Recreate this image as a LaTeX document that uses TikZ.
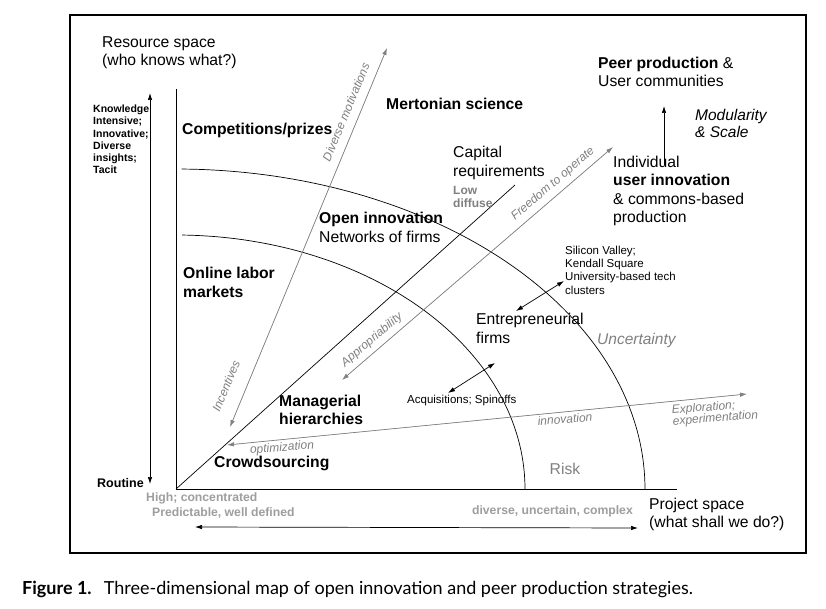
\documentclass[tikz,border=0pt]{standalone}
\usepackage{fontspec}
\setmainfont{Liberation Sans}
\newfontfamily\capfont{Lato}
\usetikzlibrary{arrows.meta}

\begin{document}
\begin{tikzpicture}[x=1pt,y=-1pt,
    lbl/.style={align=left,anchor=west,inner sep=0pt,font=\fontsize{15.7}{18.4}\selectfont},
    hd/.style={lbl,font=\fontsize{15.7}{18.6}\selectfont\bfseries},
    sm/.style={lbl,font=\fontsize{11.5}{13.3}\selectfont},
    gl/.style={lbl,text=black!38,font=\fontsize{12.2}{13}\selectfont\bfseries},
    gi/.style={inner sep=0pt,text=black!50,font=\fontsize{12}{11.5}\selectfont\itshape},
    arr/.style={{Latex[length=7pt,width=4.5pt]}-{Latex[length=7pt,width=4.5pt]},line width=0.7pt},
    uparr/.style={-{Latex[length=7pt,width=4.5pt]},line width=0.7pt},
    garr/.style={arr,draw=black!50,fill=black!50},
    crv/.style={line width=0.7pt}
  ]
  \useasboundingbox (0,0) rectangle (826,609);
  \fill[white] (0,0) rectangle (826,609);
  \draw[line width=1.1pt] (70,15) rectangle (806,553);
  % axes
  \coordinate (O) at (176,489);
  \coordinate (ytop) at (176,89);
  \coordinate (xend) at (677,489);
  \coordinate (dtop) at (515,185);
  \draw[line width=0.9pt] (ytop) -- (O) -- (xend);
  \draw[crv] (O) -- (dtop);
  \draw[crv] plot[domain=0:89.3,samples=80,smooth] ({176+469*cos(\x)},{489-320*sin(\x)});
  \draw[crv] plot[domain=0:89,samples=80,smooth] ({176+349*cos(\x)},{489-254*sin(\x)});
  \coordinate (knowA) at (150,93);
  \coordinate (routA) at (150,484);
  \coordinate (predA) at (195,527);
  \coordinate (divA) at (638,528);
  \draw[arr] (routA) -- (knowA);
  \draw[arr] (predA) -- (divA);
  \node[lbl] (res) at (102,52.5) {Resource space\\(who knows what?)};
  \node[sm,font=\fontsize{10.5}{12.2}\selectfont\bfseries] (know) at (93,139.5)
    {Knowledge\\Intensive;\\Innovative;\\Diverse\\insights;\\Tacit};
  \node[sm,font=\fontsize{12.5}{13}\selectfont\bfseries] (rout) at (97,483) {Routine};
  \node[lbl] (proj) at (649,514.5) {Project space\\(what shall we do?)};
  \node[gl] (high) at (146,498) {High; concentrated};
  \node[gl] (pred) at (152,513) {Predictable, well defined};
  \node[gl,anchor=east] (div) at (633,511) {diverse, uncertain, complex};
  % strategies
  \node[hd] (comp) at (182,130) {Competitions/prizes};
  \node[hd] (mert) at (386,104) {Mertonian science};
  \node[lbl] (peer) at (598,72) {\textbf{Peer production} \&\\User communities};
  \node[lbl,font=\fontsize{15.5}{17}\selectfont\itshape] (mod) at (695,123.5) {Modularity\\\& Scale};
  \node[lbl] (capreq) at (453,163) {Capital\\requirements};
  \node[gl,text=black!50,font=\fontsize{12}{13}\selectfont\bfseries] (low) at (453,196.5) {Low\\diffuse};
  \node[lbl] (indiv) at (613,191) {Individual\\\textbf{user innovation}\\\& commons-based\\production};
  \node[lbl] (open) at (319,227.5) {\textbf{Open innovation}\\Networks of firms};
  \node[hd] (onl) at (183,282.5) {Online labor\\markets};
  \node[hd] (man) at (279,410) {Managerial\\hierarchies};
  \node[hd] (crowd) at (214,463) {Crowdsourcing};
  \node[sm] (acq) at (407,401) {Acquisitions; Spinoffs};
  \node[lbl] (ent) at (476,328.5) {Entrepreneurial\\firms};
  \node[sm] (sil) at (565,270) {Silicon Valley;\\Kendall Square\\University-based tech\\clusters};
  \node[lbl,text=black!50,font=\fontsize{15.5}{17}\selectfont\itshape] (unc) at (597,340) {Uncertainty};
  \node[lbl,anchor=center,text=black!50] (risk) at (565,469) {Risk};
  % dimension arrows
  \coordinate (incA) at (230,427);
  \coordinate (motA) at (387,48);
  \coordinate (appA) at (342,380);
  \coordinate (freeA) at (613,147);
  \coordinate (optA) at (227,445);
  \coordinate (expA) at (747,394);
  \draw[garr] (incA) -- (motA);
  \draw[garr] (appA) -- (freeA);
  \draw[garr] (optA) -- (expA);
  \node[gi,rotate=67.5] (mot) at (346,112) {Diverse motivations};
  \node[gi,rotate=67.5] (inc) at (226,386) {Incentives};
  \node[gi,rotate=40.6] (free) at (553,184) {Freedom to operate};
  \node[gi,rotate=40.6] (app) at (372,340) {Appropriability};
  \node[gi,rotate=4.5] (opt) at (282,448) {optimization};
  \node[gi,rotate=4.5] (inn) at (565,419) {innovation};
  \node[gi,rotate=4.5,align=left] (exp) at (715,413) {Exploration;\\experimentation};
  % links
  \coordinate (acqA) at (448,393);
  \coordinate (entA) at (495,363);
  \coordinate (entB) at (516,311);
  \coordinate (silA) at (564,281);
  \coordinate (indA) at (664,165);
  \coordinate (peerA) at (664,106);
  \draw[arr] (acqA) -- (entA);
  \draw[arr] (entB) -- (silA);
  \draw[uparr] (indA) -- (peerA);
  \node[anchor=base west,inner sep=0pt,font=\capfont\fontsize{18}{20}\selectfont] (fig) at (22,594)
    {\textbf{Figure 1.}\hspace{6pt} Three-dimensional map of open innovation and peer production strategies.};
\end{tikzpicture}
\end{document}
